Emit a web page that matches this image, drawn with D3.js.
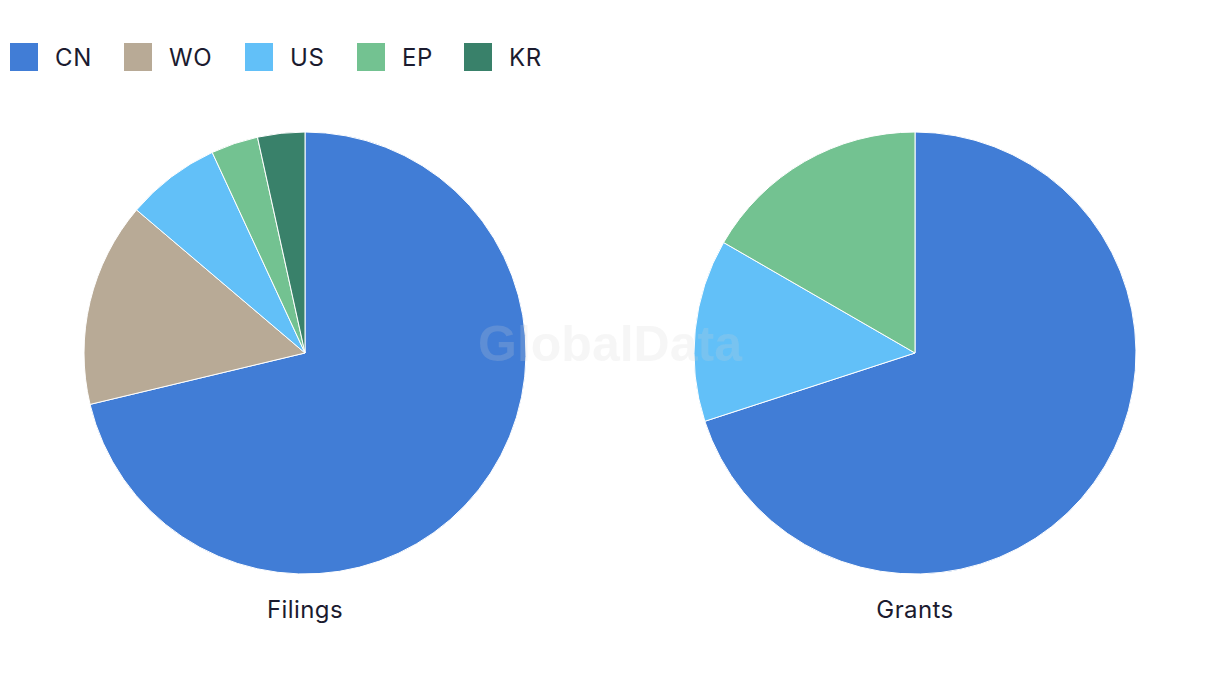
<!DOCTYPE html>
<html>
<head>
<meta charset="utf-8">
<script src="https://cdn.jsdelivr.net/npm/d3@7"></script>
<style>
  html, body { margin: 0; padding: 0; background: #ffffff; }
  svg { display: block; }
</style>
</head>
<body>
<svg id="chart" width="1220" height="686"></svg>
<script>
const categories = ["CN", "WO", "US", "EP", "KR"];
const colors = ["#417dd6", "#b8aa96", "#62c0f8", "#73c291", "#39816a"];
const filingsValues = [62, 13, 6, 3, 3];
const grantsValues = [21, 0, 4, 5, 0];
const pieTitles = ["Filings", "Grants"];

const svg = d3.select("#chart");
const fontFamily = "Inter, 'Noto Sans', sans-serif";
const textColor = "#1b1b2f";

const color = d3.scaleOrdinal().domain(categories).range(colors);

// Legend
const legendXs = [10, 124, 245, 357, 464];
const legendX = d3.scaleOrdinal().domain(categories).range(legendXs);
const legend = svg.append("g");
const items = legend.selectAll("g").data(categories).join("g")
  .attr("transform", d => `translate(${legendX(d)},43)`);
items.append("rect").attr("width", 28).attr("height", 28).attr("fill", d => color(d));
items.append("text").attr("x", 45).attr("y", 23)
  .attr("font-family", fontFamily).attr("font-size", 24)
  .attr("letter-spacing", 0.6)
  .attr("fill", textColor).text(d => d);

const pie = d3.pie().sort(null).value(d => d.v);
const radius = 221;
const arc = d3.arc().innerRadius(0).outerRadius(radius);
const centersX = d3.scaleOrdinal().domain(pieTitles).range([305, 915]);

[filingsValues, grantsValues].forEach((vals, i) => {
  const data = categories.map((c, j) => ({ c, v: vals[j] }));
  const g = svg.append("g").attr("transform", `translate(${centersX(pieTitles[i])},353)`);
  g.selectAll("path").data(pie(data).filter(d => d.data.v > 0)).join("path")
    .attr("d", arc)
    .attr("fill", d => color(d.data.c))
    .attr("stroke", "#ffffff").attr("stroke-width", 1);
  g.append("text").attr("x", 0).attr("y", 265)
    .attr("text-anchor", "middle")
    .attr("font-family", fontFamily).attr("font-size", 24)
    .attr("letter-spacing", 0.4)
    .attr("fill", textColor).text(pieTitles[i]);
});

// Watermark
svg.append("text").attr("x", 610).attr("y", 361)
  .attr("text-anchor", "middle")
  .attr("font-family", "'Liberation Sans', Arial, sans-serif")
  .attr("font-weight", "bold").attr("font-size", 50)
  .attr("fill", "#d0d0d0").attr("fill-opacity", 0.2)
  .text("GlobalData");
</script>
</body>
</html>
